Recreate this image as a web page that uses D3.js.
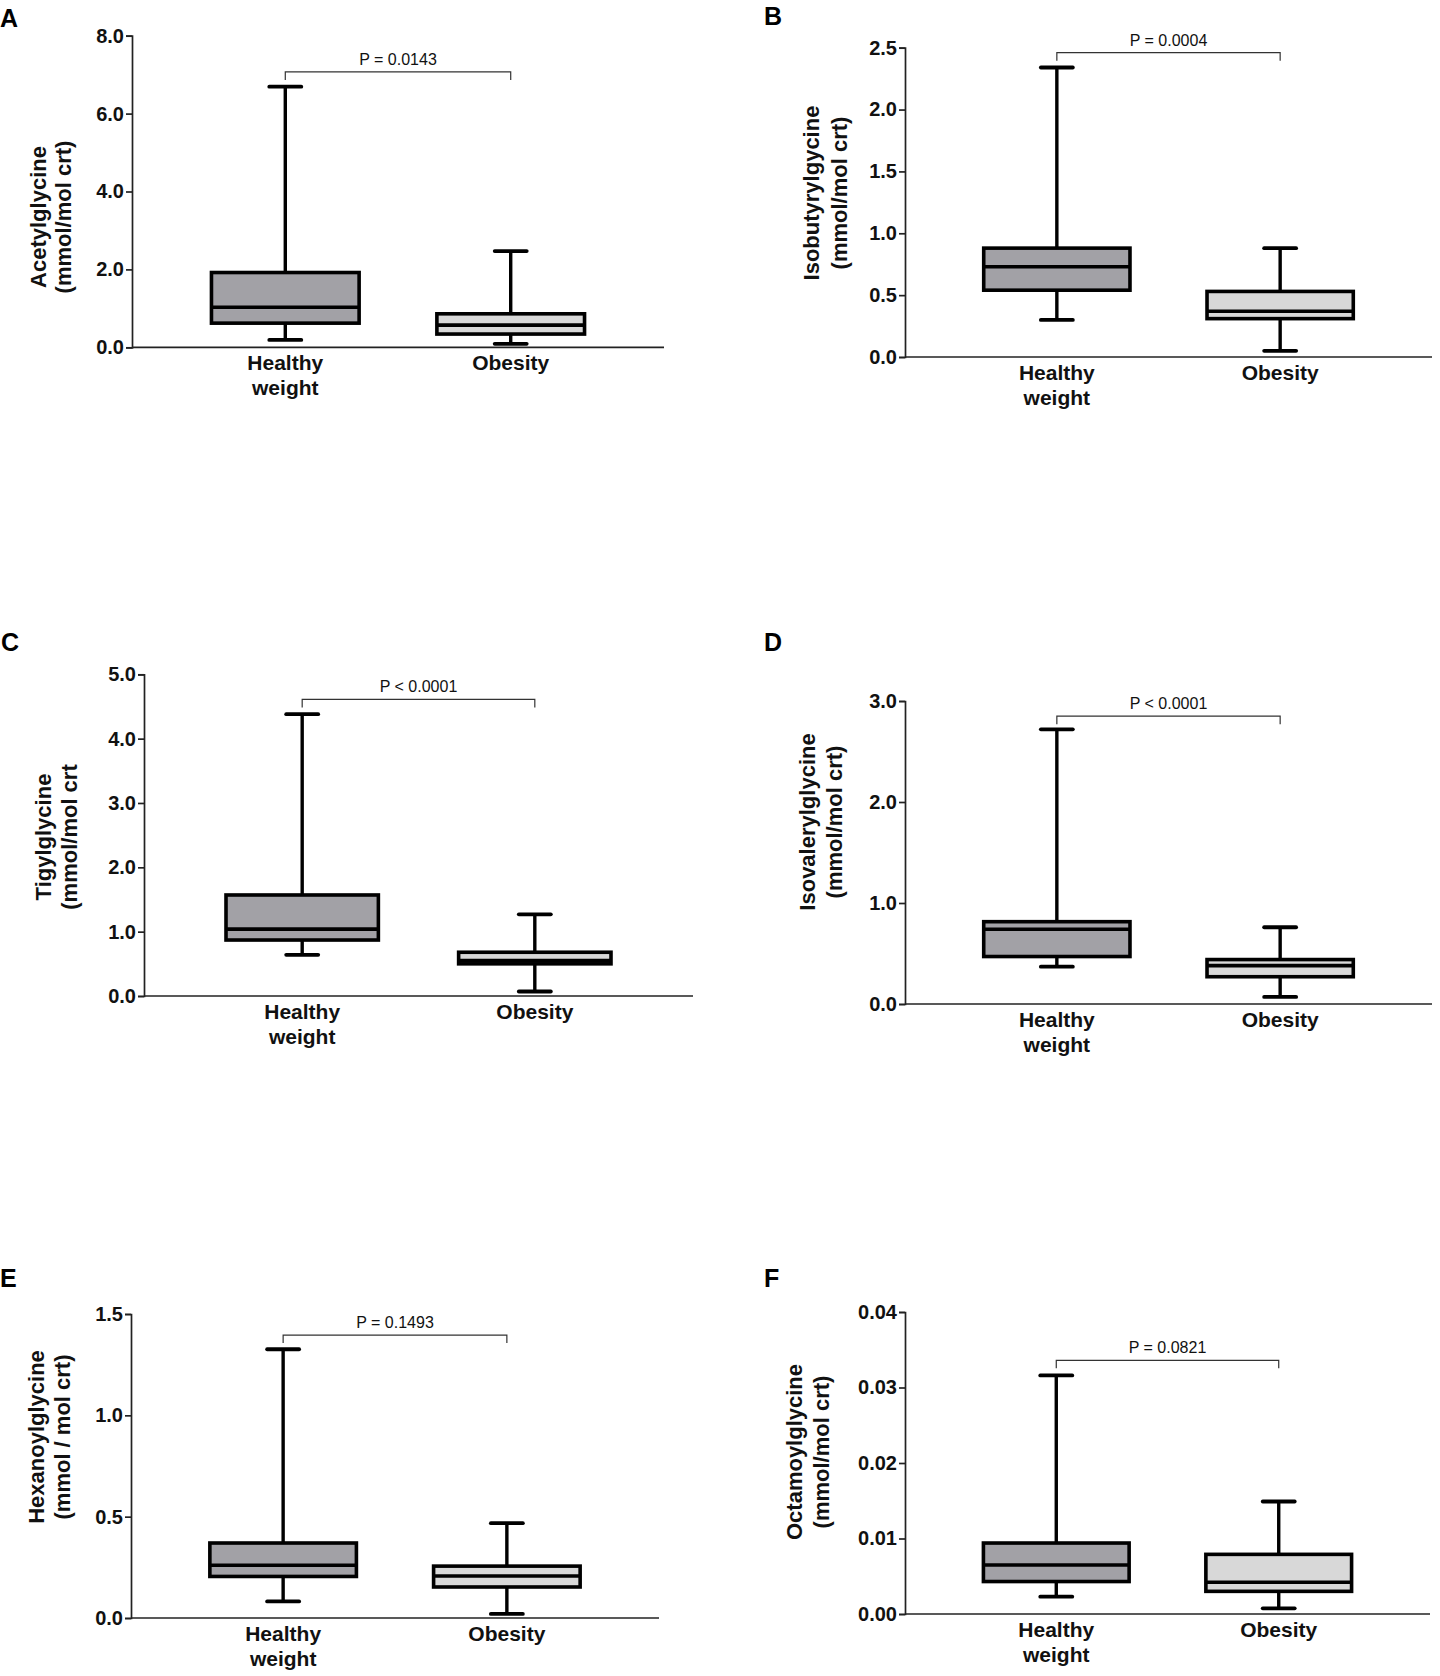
<!DOCTYPE html>
<html>
<head>
<meta charset="utf-8">
<script src="https://cdn.jsdelivr.net/npm/d3@7"></script>
<style>
  body { margin: 0; background: #fff; }
  text { font-family: "Liberation Sans", Arial, Helvetica, sans-serif; }
</style>
</head>
<body>
<script>

// panel letters, labels and p values
var panelLetters = ["A", "B", "C", "D", "E", "F"]
var groups = ["Healthy weight", "Obesity"]
var yLabels = [
    ["Acetylglycine", "(mmol/mol crt)"],
    ["Isobutyrylgycine", "(mmol/mol crt)"],
    ["Tigylglycine", "(mmol/mol crt"],
    ["Isovalerylglycine", "(mmol/mol crt)"],
    ["Hexanoylglycine", "(mmol / mol crt)"],
    ["Octamoylglycine", "(mmol/mol crt)"]
]
var pLabels = ["P = 0.0143", "P = 0.0004", "P < 0.0001", "P < 0.0001", "P = 0.1493", "P = 0.0821"]

// [min, q1, median, q3, max]
var healthyStats = [
    [0.19, 0.62, 1.03, 1.92, 6.69],
    [0.30, 0.54, 0.73, 0.88, 2.34],
    [0.64, 0.87, 1.04, 1.57, 4.38],
    [0.37, 0.47, 0.74, 0.815, 2.72],
    [0.082, 0.205, 0.26, 0.37, 1.326],
    [0.0023, 0.0043, 0.0065, 0.0094, 0.0316]
]
var obesityStats = [
    [0.09, 0.34, 0.57, 0.86, 2.47],
    [0.05, 0.31, 0.37, 0.53, 0.88],
    [0.07, 0.50, 0.55, 0.68, 1.27],
    [0.07, 0.27, 0.38, 0.44, 0.76],
    [0.02, 0.153, 0.207, 0.256, 0.468],
    [0.00075, 0.0030, 0.0042, 0.0079, 0.0149]
]

var yMax = [8, 2.5, 5, 3, 1.5, 0.04]
var yTicks = [
    [0, 2, 4, 6, 8],
    [0, 0.5, 1, 1.5, 2, 2.5],
    [0, 1, 2, 3, 4, 5],
    [0, 1, 2, 3],
    [0, 0.5, 1, 1.5],
    [0, 0.01, 0.02, 0.03, 0.04]
]
var tickFormats = [".1f", ".1f", ".1f", ".1f", ".1f", ".2f"]
// height of the p value bracket, in data units
var bracketValues = [7.07, 2.46, 4.61, 2.85, 1.396, 0.0336]

// where each panel sits on the page
var layout = [
    {x0: 132, x1: 664, yTop: 35.7, yBot: 347.3, labX: [39, 64], labY: 217, letter: [0, 27]},
    {x0: 905, x1: 1432, yTop: 47.7, yBot: 357, labX: [812, 840], labY: 193, letter: [764, 25]},
    {x0: 144, x1: 693, yTop: 674.3, yBot: 996, labX: [44, 70], labY: 837, letter: [1, 651]},
    {x0: 905, x1: 1432, yTop: 701, yBot: 1004, labX: [808, 835], labY: 822, letter: [764, 651]},
    {x0: 131, x1: 659, yTop: 1314, yBot: 1618, labX: [37, 63], labY: 1437, letter: [0, 1287]},
    {x0: 905, x1: 1430, yTop: 1312, yBot: 1614, labX: [795, 822], labY: 1452, letter: [764, 1287]}
]

var fills = {"Healthy weight": "#a2a1a6", "Obesity": "#d8d8d8"}

var svg = d3.select("body").append("svg")
    .attr("width", 1440)
    .attr("height", 1676)
    .style("background", "#fff")

panelLetters.forEach(function(letter, i){

    var L = layout[i]
    var g = svg.append("g")

    var x = d3.scalePoint()
        .domain(groups)
        .range([L.x0, L.x1])
        .padding(0.68)

    var y = d3.scaleLinear()
        .domain([0, yMax[i]])
        .range([L.yBot, L.yTop])

    var boxW = x.step() * 0.655
    var capW = 32

    // y axis
    var yAxis = g.append("g")
        .attr("transform", "translate(" + L.x0 + ",0)")
        .call(d3.axisLeft(y).tickValues(yTicks[i]).tickFormat(d3.format(tickFormats[i])).tickSize(6).tickPadding(2))
    yAxis.select(".domain").attr("stroke", "#222").attr("stroke-width", 1.7)
    yAxis.selectAll(".tick line").attr("stroke", "#222").attr("stroke-width", 1.7)
    yAxis.selectAll(".tick text")
        .attr("font-size", 20)
        .attr("font-weight", "bold")
        .attr("fill", "#111")
        .style("font-family", "'Liberation Sans', Arial, sans-serif")

    // x axis line
    g.append("line")
        .attr("x1", L.x0).attr("x2", L.x1)
        .attr("y1", y(0)).attr("y2", y(0))
        .attr("stroke", "#222").attr("stroke-width", 1.7)

    // category labels
    groups.forEach(function(name){
        var words = name == "Healthy weight" ? ["Healthy", "weight"] : ["Obesity"]
        words.forEach(function(w, k){
            g.append("text")
                .attr("x", x(name))
                .attr("y", y(0) + 23 + k * 24.5)
                .attr("text-anchor", "middle")
                .attr("font-size", 21)
                .attr("font-weight", "bold")
                .attr("fill", "#111")
                .text(w)
        })
    })

    // y label
    yLabels[i].forEach(function(line, k){
        g.append("text")
            .attr("transform", "translate(" + (L.labX[k] + 7) + "," + L.labY + ") rotate(-90)")
            .attr("text-anchor", "middle")
            .attr("font-size", 22)
            .attr("font-weight", "bold")
            .attr("fill", "#111")
            .text(line)
    })

    // panel letter
    g.append("text")
        .attr("x", L.letter[0])
        .attr("y", L.letter[1])
        .attr("font-size", 25)
        .attr("font-weight", "bold")
        .attr("fill", "#000")
        .text(letter)

    // boxes
    var boxes = [
        {name: groups[0], s: healthyStats[i]},
        {name: groups[1], s: obesityStats[i]}
    ]

    var bg = g.selectAll("g.box")
        .data(boxes)
        .enter()
        .append("g")
        .attr("class", "box")

    // whisker lines
    bg.append("line")
        .attr("x1", (d) => {return x(d.name)})
        .attr("x2", (d) => {return x(d.name)})
        .attr("y1", (d) => {return y(d.s[4])})
        .attr("y2", (d) => {return y(d.s[0])})
        .attr("stroke", "#000")
        .attr("stroke-width", 3.4)

    // caps
    bg.selectAll("line.cap")
        .data((d) => {return [{name: d.name, v: d.s[0]}, {name: d.name, v: d.s[4]}]})
        .enter()
        .append("line")
        .attr("class", "cap")
        .attr("x1", (d) => {return x(d.name) - capW / 2})
        .attr("x2", (d) => {return x(d.name) + capW / 2})
        .attr("y1", (d) => {return y(d.v)})
        .attr("y2", (d) => {return y(d.v)})
        .attr("stroke", "#000")
        .attr("stroke-width", 3.8)
        .attr("stroke-linecap", "round")

    bg.append("rect")
        .attr("x", (d) => {return x(d.name) - boxW / 2})
        .attr("y", (d) => {return y(d.s[3])})
        .attr("width", boxW)
        .attr("height", (d) => {return y(d.s[1]) - y(d.s[3])})
        .attr("fill", (d) => {return fills[d.name]})
        .attr("stroke", "#000")
        .attr("stroke-width", 3.6)

    // medians
    bg.append("line")
        .attr("x1", (d) => {return x(d.name) - boxW / 2})
        .attr("x2", (d) => {return x(d.name) + boxW / 2})
        .attr("y1", (d) => {return y(d.s[2])})
        .attr("y2", (d) => {return y(d.s[2])})
        .attr("stroke", "#000")
        .attr("stroke-width", 3.6)

    // p value bracket
    var by = y(bracketValues[i])
    var bx1 = x(groups[0]), bx2 = x(groups[1])
    g.append("path")
        .attr("d", "M" + bx1 + "," + (by + 8) + "V" + by + "H" + bx2 + "V" + (by + 8))
        .attr("fill", "none")
        .attr("stroke", "#333")
        .attr("stroke-width", 1.2)

    g.append("text")
        .attr("x", (bx1 + bx2) / 2)
        .attr("y", by - 7)
        .attr("text-anchor", "middle")
        .attr("font-size", 16)
        .attr("fill", "#111")
        .text(pLabels[i])
})

</script>
</body>
</html>
